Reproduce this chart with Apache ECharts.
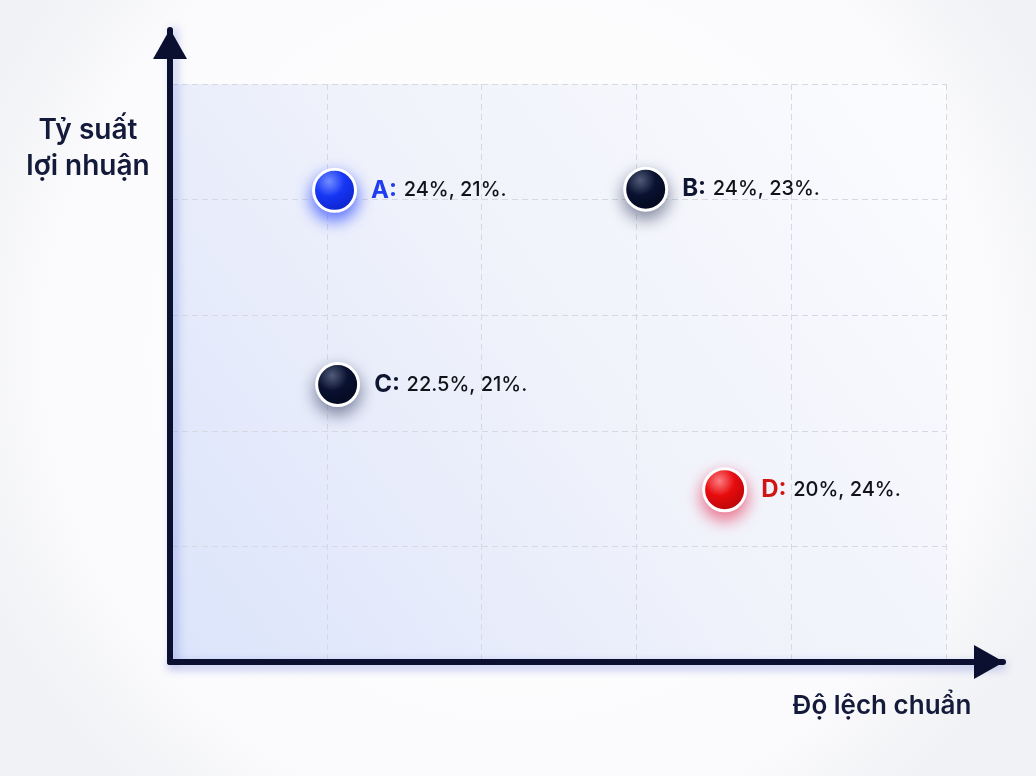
<!DOCTYPE html>
<html>
<head>
<meta charset="utf-8">
<script src="https://cdn.jsdelivr.net/npm/echarts@6/dist/echarts.min.js"></script>
<style>
html,body{margin:0;padding:0;background:#ffffff;}
#chart{width:1036px;height:776px;}
</style>
</head>
<body>
<div id="chart"></div>
<script>
// ---- data ----
const pointNames = ['A', 'B', 'C', 'D'];
const xValues = [1.05, 3.06, 1.07, 3.57];
const yValues = [4.08, 4.09, 2.40, 1.49];
const pointTexts = ['24%, 21%.', '24%, 23%.', '22.5%, 21%.', '20%, 24%.'];
const yAxisName = 'Tỷ suất\nlợi nhuận';
const xAxisName = 'Độ lệch chuẩn';

// ---- styles ----
const pointColors = [
  ['#7d98ff', '#1636f5', '#0a1fc0'],
  ['#56617e', '#0a1230', '#03071a'],
  ['#56617e', '#0a1230', '#03071a'],
  ['#ff8a8a', '#e80c0c', '#b00505'],
];
const glowColors = ['rgba(40,70,255,0.8)', 'rgba(20,30,70,0.5)', 'rgba(20,30,70,0.5)', 'rgba(230,20,60,0.6)'];
const letterColors = ['#1f3cf0', '#0e1530', '#0e1530', '#d01515'];

const chart = echarts.init(document.getElementById('chart'));

const seriesData = pointNames.map((n, i) => ({
  name: n,
  value: [xValues[i], yValues[i]],
  itemStyle: {
    opacity: 1,
    color: new echarts.graphic.RadialGradient(0.38, 0.3, 0.75, [
      { offset: 0, color: pointColors[i][0] },
      { offset: 0.45, color: pointColors[i][1] },
      { offset: 1, color: pointColors[i][2] },
    ]),
    borderColor: '#ffffff',
    borderWidth: 3,
    shadowColor: glowColors[i],
    shadowBlur: 16,
    shadowOffsetY: 7,
  },
  label: {
    formatter: '{l' + i + '|' + n + ':}  {v|' + pointTexts[i] + '}',
  },
}));

const rich = { v: { fontFamily: 'Inter', fontSize: 20, color: '#111318', fontWeight: 500 } };
letterColors.forEach((c, i) => {
  rich['l' + i] = { fontFamily: 'Inter', fontSize: 24, fontWeight: 700, color: c };
});

const option = {
  backgroundColor: new echarts.graphic.RadialGradient(0.5, 0.45, 0.75, [
    { offset: 0, color: '#ffffff' },
    { offset: 0.8, color: '#fbfbfd' },
    { offset: 1, color: '#f1f2f5' },
  ]),
  animation: false,
  grid: [
    {
      left: 172, right: 90, top: 84, bottom: 114,
      show: true, borderWidth: 0,
      backgroundColor: new echarts.graphic.LinearGradient(0, 1, 1, 0, [
        { offset: 0, color: '#dbe4fb' },
        { offset: 0.5, color: '#f0f2fb' },
        { offset: 1, color: '#fbfcfe' },
      ]),
    },
    { left: 170, right: 33, top: 30, bottom: 114 },
  ],
  xAxis: [
    {
      gridIndex: 0, type: 'value', min: 0, max: 5, interval: 1,
      axisLine: { show: false }, axisTick: { show: false }, axisLabel: { show: false },
      splitLine: { show: true, lineStyle: { color: '#d6d9e2', type: [6, 4], width: 1 } },
    },
    {
      gridIndex: 1, type: 'value', min: 0, max: 1,
      axisTick: { show: false }, axisLabel: { show: false }, splitLine: { show: false },
      axisLine: {
        show: true, symbol: ['none', 'triangle'], symbolSize: [34, 30], symbolOffset: [0, -14],
        lineStyle: { color: '#0c1030', width: 6, shadowColor: 'rgba(40,60,200,0.35)', shadowBlur: 10, shadowOffsetY: 4 },
      },
    },
  ],
  yAxis: [
    {
      gridIndex: 0, type: 'value', min: 0, max: 5, interval: 1,
      axisLine: { show: false }, axisTick: { show: false }, axisLabel: { show: false },
      splitLine: { show: true, lineStyle: { color: '#d6d9e2', type: [6, 4], width: 1 } },
    },
    {
      gridIndex: 1, type: 'value', min: 0, max: 1,
      axisTick: { show: false }, axisLabel: { show: false }, splitLine: { show: false },
      axisLine: {
        show: true, symbol: ['none', 'triangle'], symbolSize: [34, 30], symbolOffset: [0, -14],
        lineStyle: { color: '#0c1030', width: 6, shadowColor: 'rgba(40,60,200,0.3)', shadowBlur: 10, shadowOffsetX: 4 },
      },
    },
  ],
  series: [
    {
      type: 'scatter',
      xAxisIndex: 0, yAxisIndex: 0,
      symbolSize: 42,
      data: seriesData,
      label: { show: true, position: 'right', distance: 14, rich: rich },
      z: 5,
    },
  ],
  graphic: [
    {
      type: 'text',
      style: {
        text: yAxisName, x: 88, y: 149, align: 'center', verticalAlign: 'middle',
        fontFamily: 'Inter', fontSize: 28, fontWeight: 600, fill: '#141a3a', lineHeight: 36,
      },
    },
    {
      type: 'text',
      style: {
        text: xAxisName, x: 882, y: 706, align: 'center', verticalAlign: 'middle',
        fontFamily: 'Inter', fontSize: 26, fontWeight: 600, fill: '#141a3a',
      },
    },
  ],
};
chart.setOption(option);
</script>
</body>
</html>
